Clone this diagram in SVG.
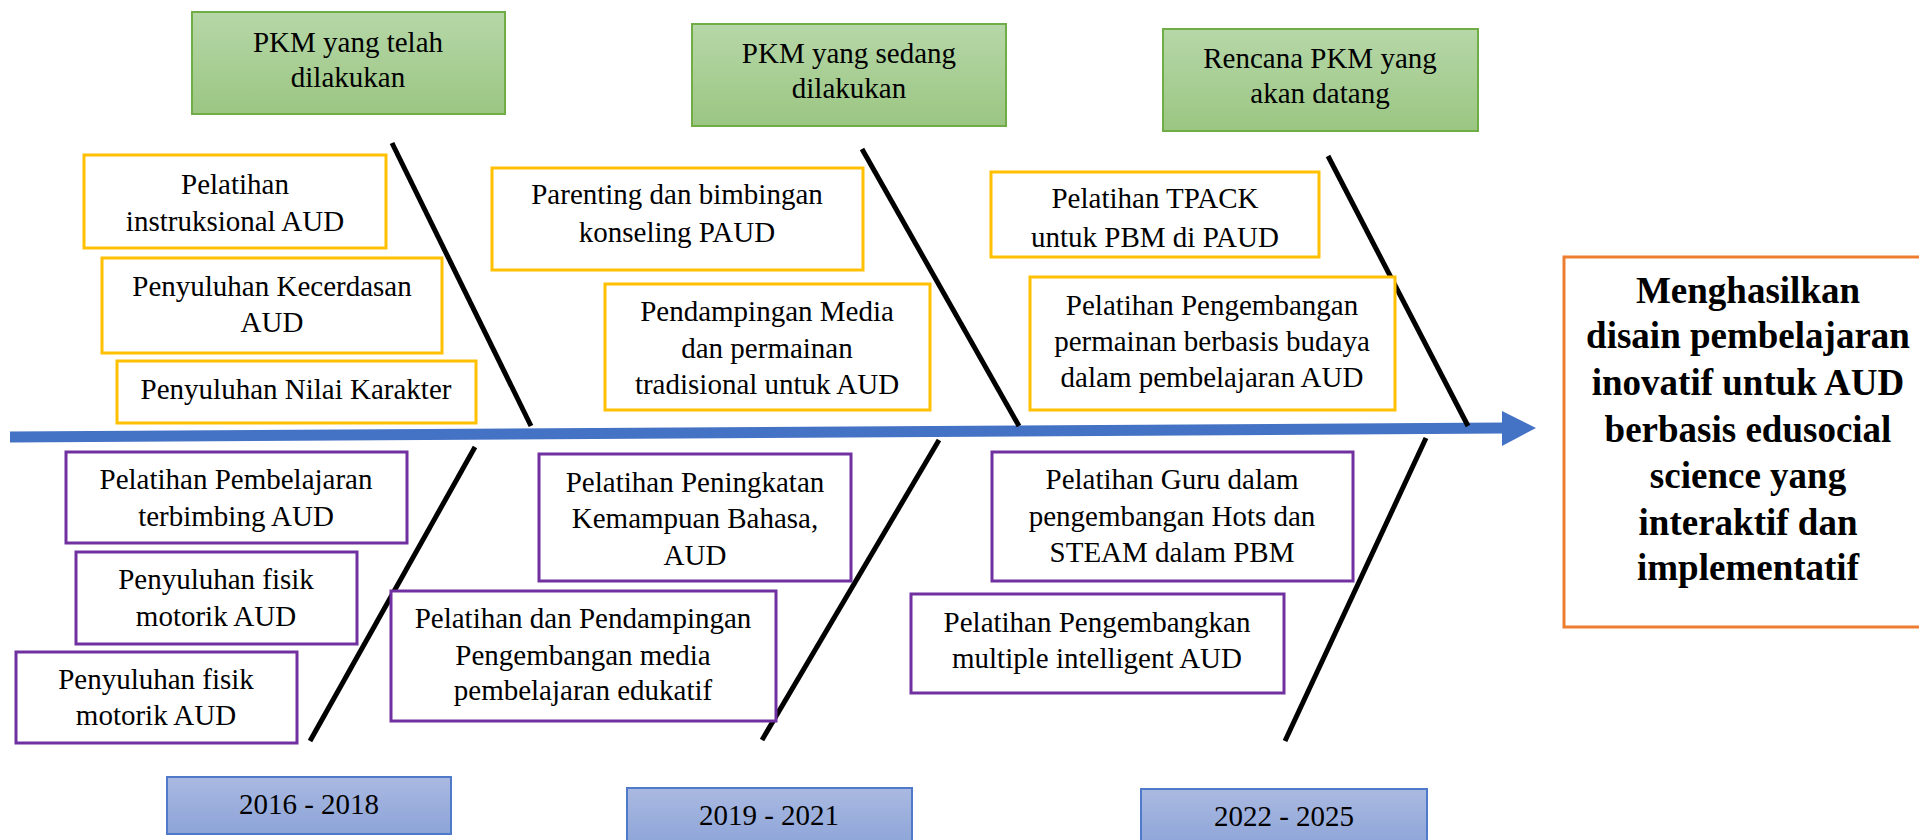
<svg xmlns="http://www.w3.org/2000/svg" width="1919" height="840" viewBox="0 0 1919 840">
<defs>
<linearGradient id="gG" x1="0" y1="0" x2="0" y2="1"><stop offset="0" stop-color="#B6D7A8"/><stop offset="1" stop-color="#9BC682"/></linearGradient>
<linearGradient id="gB" x1="0" y1="0" x2="0" y2="1"><stop offset="0" stop-color="#AAB9E1"/><stop offset="1" stop-color="#8CA4D8"/></linearGradient>
<style>
text{font-family:"Liberation Serif","Times New Roman",serif;font-size:29px;fill:#000;text-anchor:middle}
.g{fill:url(#gG);stroke:#70AD47;stroke-width:2}
.y{fill:#fff;stroke:#FFC000;stroke-width:3}
.p{fill:#fff;stroke:#7030A0;stroke-width:3}
.b{fill:url(#gB);stroke:#4F7AC9;stroke-width:2}
.o{fill:#fff;stroke:#ED7D31;stroke-width:3}
.bone{stroke:#000;stroke-width:5;fill:none}
.bold{font-weight:bold;font-size:37px}
</style>
</defs>
<rect width="1919" height="840" fill="#fff"/>
<g id="connectors">
<line x1="10" y1="437" x2="1504" y2="428" stroke="#4472C4" stroke-width="11"/>
<polygon points="1502,411 1536,428 1502,446" fill="#4472C4"/>
<line class="bone" x1="392" y1="143" x2="531" y2="426"/>
<line class="bone" x1="475" y1="447" x2="310" y2="741"/>
<line class="bone" x1="862" y1="149" x2="1019" y2="426"/>
<line class="bone" x1="939" y1="440" x2="762" y2="740"/>
<line class="bone" x1="1328" y1="156" x2="1468" y2="426"/>
<line class="bone" x1="1426" y1="438" x2="1285" y2="741"/>
</g>
<g id="head1"><rect class="g" x="192" y="12" width="313" height="102"/><text x="348" y="52">PKM yang telah</text><text x="348" y="87">dilakukan</text></g>
<g id="head2"><rect class="g" x="692" y="24" width="314" height="102"/><text x="849" y="63">PKM yang sedang</text><text x="849" y="98">dilakukan</text></g>
<g id="head3"><rect class="g" x="1163" y="29" width="315" height="102"/><text x="1320" y="68">Rencana PKM yang</text><text x="1320" y="103">akan datang</text></g>
<g id="y1"><rect class="y" x="84" y="155" width="302" height="93"/><text x="235" y="194">Pelatihan</text><text x="235" y="231">instruksional AUD</text></g>
<g id="y2"><rect class="y" x="102" y="258" width="340" height="95"/><text x="272" y="296">Penyuluhan Kecerdasan</text><text x="272" y="332">AUD</text></g>
<g id="y3"><rect class="y" x="117" y="361" width="359" height="62"/><text x="296" y="399">Penyuluhan Nilai Karakter</text></g>
<g id="y4"><rect class="y" x="492" y="168" width="371" height="102"/><text x="677" y="204">Parenting dan bimbingan</text><text x="677" y="242">konseling PAUD</text></g>
<g id="y5"><rect class="y" x="605" y="284" width="325" height="126"/><text x="767" y="321">Pendampingan Media</text><text x="767" y="358">dan permainan</text><text x="767" y="394">tradisional untuk AUD</text></g>
<g id="y6"><rect class="y" x="991" y="172" width="328" height="85"/><text x="1155" y="208">Pelatihan TPACK</text><text x="1155" y="247">untuk PBM di PAUD</text></g>
<g id="y7"><rect class="y" x="1030" y="277" width="365" height="133"/><text x="1212" y="315">Pelatihan Pengembangan</text><text x="1212" y="351">permainan berbasis budaya</text><text x="1212" y="387">dalam pembelajaran AUD</text></g>
<g id="p1"><rect class="p" x="66" y="452" width="341" height="91"/><text x="236" y="489">Pelatihan Pembelajaran</text><text x="236" y="526">terbimbing AUD</text></g>
<g id="p2"><rect class="p" x="76" y="552" width="281" height="92"/><text x="216" y="589">Penyuluhan fisik</text><text x="216" y="626">motorik AUD</text></g>
<g id="p3"><rect class="p" x="16" y="652" width="281" height="91"/><text x="156" y="689">Penyuluhan fisik</text><text x="156" y="725">motorik AUD</text></g>
<g id="p4"><rect class="p" x="539" y="454" width="312" height="127"/><text x="695" y="492">Pelatihan Peningkatan</text><text x="695" y="528">Kemampuan Bahasa,</text><text x="695" y="565">AUD</text></g>
<g id="p5"><rect class="p" x="391" y="591" width="385" height="130"/><text x="583" y="628">Pelatihan dan Pendampingan</text><text x="583" y="665">Pengembangan media</text><text x="583" y="700">pembelajaran edukatif</text></g>
<g id="p6"><rect class="p" x="992" y="452" width="361" height="129"/><text x="1172" y="489">Pelatihan Guru dalam</text><text x="1172" y="526">pengembangan Hots dan</text><text x="1172" y="562">STEAM dalam PBM</text></g>
<g id="p7"><rect class="p" x="911" y="594" width="373" height="99"/><text x="1097" y="632">Pelatihan Pengembangkan</text><text x="1097" y="668">multiple intelligent AUD</text></g>
<g id="yr1"><rect class="b" x="167" y="777" width="284" height="57"/><text x="309" y="814">2016 - 2018</text></g>
<g id="yr2"><rect class="b" x="627" y="788" width="285" height="60"/><text x="769" y="825">2019 - 2021</text></g>
<g id="yr3"><rect class="b" x="1141" y="789" width="286" height="60"/><text x="1284" y="826">2022 - 2025</text></g>
<g id="result"><rect class="o" x="1564" y="257" width="370" height="370"/>
<text class="bold" x="1748" y="303">Menghasilkan</text>
<text class="bold" x="1748" y="348">disain pembelajaran</text>
<text class="bold" x="1748" y="395">inovatif untuk AUD</text>
<text class="bold" x="1748" y="442">berbasis edusocial</text>
<text class="bold" x="1748" y="488">science yang</text>
<text class="bold" x="1748" y="535">interaktif dan</text>
<text class="bold" x="1748" y="580">implementatif</text>
</g>
</svg>
